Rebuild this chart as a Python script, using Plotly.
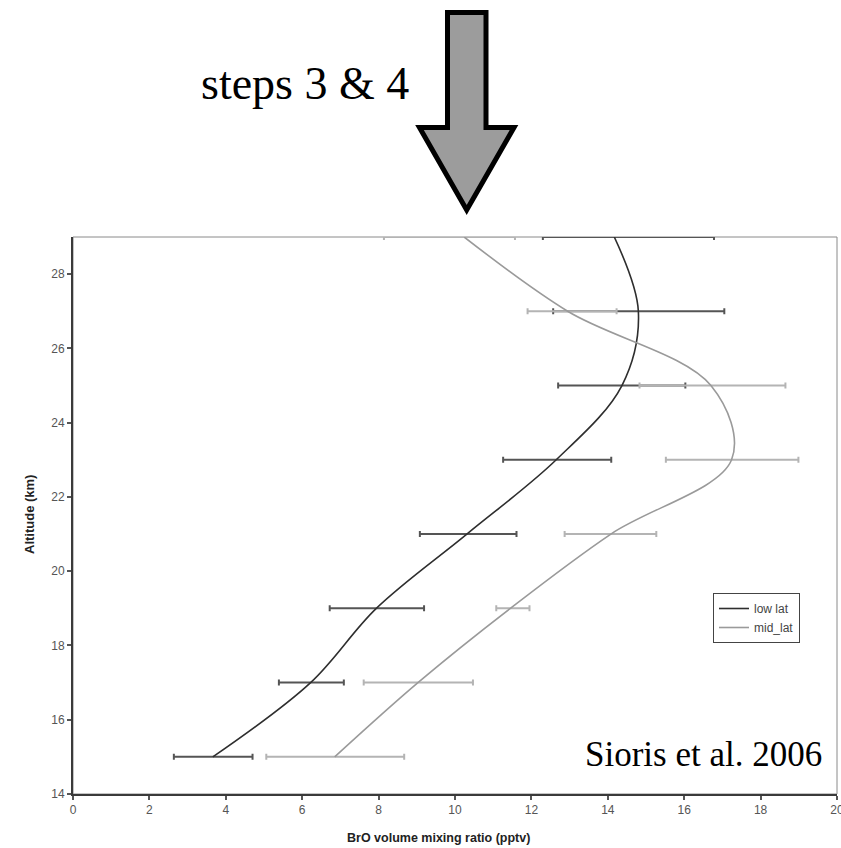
import plotly.graph_objects as go

# ---- data ----
altitude = [15, 17, 19, 21, 23, 25, 27, 29]
low_lat = [3.66, 6.22, 7.94, 10.31, 12.65, 14.37, 14.80, 14.17]
low_lat_lo = [2.64, 5.39, 6.72, 9.08, 11.26, 12.70, 12.57, 12.30]
low_lat_hi = [4.70, 7.09, 9.19, 11.61, 14.09, 16.03, 17.05, 16.78]
mid_lat = [6.85, 9.03, 11.45, 14.08, 17.24, 16.70, 12.95, 10.24]
mid_lat_lo = [5.06, 7.61, 11.08, 12.87, 15.52, 14.83, 11.90, 8.14]
mid_lat_hi = [8.67, 10.47, 11.95, 15.27, 18.99, 18.65, 14.23, 11.57]
x_ticks = list(range(0, 21, 2))
y_ticks = list(range(14, 29, 2))

W, H = 841, 848
L, R, T, B = 73, 837, 237, 794  # plot area in pixels


def px_x(p):
    return (p - L) / (R - L)


def px_y(p):
    return (B - p) / (B - T)


fig = go.Figure()

fig.add_trace(go.Scatter(
    x=low_lat, y=altitude, name="low lat", mode="lines",
    line=dict(color="#2e2e2e", width=1.6, shape="spline", smoothing=1.0),
    error_x=dict(type="data", symmetric=False,
                 array=[h - c for h, c in zip(low_lat_hi, low_lat)],
                 arrayminus=[c - l for c, l in zip(low_lat, low_lat_lo)],
                 color="#555555", thickness=2, width=3),
    cliponaxis=False,
))
fig.add_trace(go.Scatter(
    x=mid_lat, y=altitude, name="mid_lat", mode="lines",
    line=dict(color="#9a9a9a", width=1.6, shape="spline", smoothing=1.0),
    error_x=dict(type="data", symmetric=False,
                 array=[h - c for h, c in zip(mid_lat_hi, mid_lat)],
                 arrayminus=[c - l for c, l in zip(mid_lat, mid_lat_lo)],
                 color="#b4b4b4", thickness=2, width=3),
    cliponaxis=False,
))

axis_font = dict(family="Liberation Sans, Arial", size=12, color="#555555")

fig.update_xaxes(range=[0, 20], tickvals=x_ticks, ticks="outside", ticklen=4,
                 tickcolor="#555555", tickwidth=1.5, showgrid=False, zeroline=False,
                 showline=True, linecolor="#3a3a3a", linewidth=2, tickfont=axis_font,
                 ticklabeloverflow="allow", automargin=False)
fig.update_yaxes(range=[14, 29], tickvals=y_ticks, ticks="outside", ticklen=4,
                 tickcolor="#555555", tickwidth=1.5, showgrid=False, zeroline=False,
                 showline=True, linecolor="#3a3a3a", linewidth=2, tickfont=axis_font,
                 automargin=False)

# arrow polygon (pixel coordinates -> paper)
arrow_px = [(447.5, 12.5), (486, 12.5), (486, 127.5), (514, 127.5), (466.7, 210),
            (419.5, 127.5), (447.5, 127.5)]
path = "M " + " L ".join(f"{px_x(x):.5f},{px_y(y):.5f}" for x, y in arrow_px) + " Z"

fig.update_layout(
    width=W, height=H,
    margin=dict(l=L, r=W - R, t=T, b=H - B, autoexpand=False),
    paper_bgcolor="white", plot_bgcolor="white",
    showlegend=True,
    legend=dict(x=px_x(713), y=px_y(593), xanchor="left", yanchor="top",
                bgcolor="white", bordercolor="#444444", borderwidth=1,
                font=dict(family="Liberation Sans, Arial", size=12, color="#444444"),
                itemwidth=30, tracegroupgap=0),
    shapes=[
        dict(type="rect", xref="paper", yref="paper", x0=0, x1=1, y0=0, y1=1,
             line=dict(color="#8a8a8a", width=1), layer="below"),
        dict(type="path", xref="paper", yref="paper", path=path,
             fillcolor="#9c9c9c", line=dict(color="black", width=5), layer="above"),
    ],
    annotations=[
        dict(text="BrO volume mixing ratio (pptv)", xref="paper", yref="paper",
             x=px_x(438), y=px_y(838), showarrow=False, xanchor="center", yanchor="middle",
             font=dict(family="Liberation Sans, Arial", size=12.5, color="#222222", weight="bold")),
        dict(text="Altitude (km)", xref="paper", yref="paper", textangle=-90,
             x=px_x(29), y=px_y(515), showarrow=False, xanchor="center", yanchor="middle",
             font=dict(family="Liberation Sans, Arial", size=13, color="#222222", weight="bold")),
        dict(text="Sioris et al. 2006", xref="paper", yref="paper",
             x=px_x(824), y=px_y(766), showarrow=False, xanchor="right", yanchor="bottom",
             yshift=-10,
             font=dict(family="Liberation Serif, Times New Roman", size=35, color="black")),
        dict(text="steps 3 &amp; 4", xref="paper", yref="paper",
             x=px_x(305), y=px_y(84), showarrow=False, xanchor="center", yanchor="middle",
             font=dict(family="Liberation Serif, Times New Roman", size=46, color="black")),
    ],
)

fig.write_html("out.html")
